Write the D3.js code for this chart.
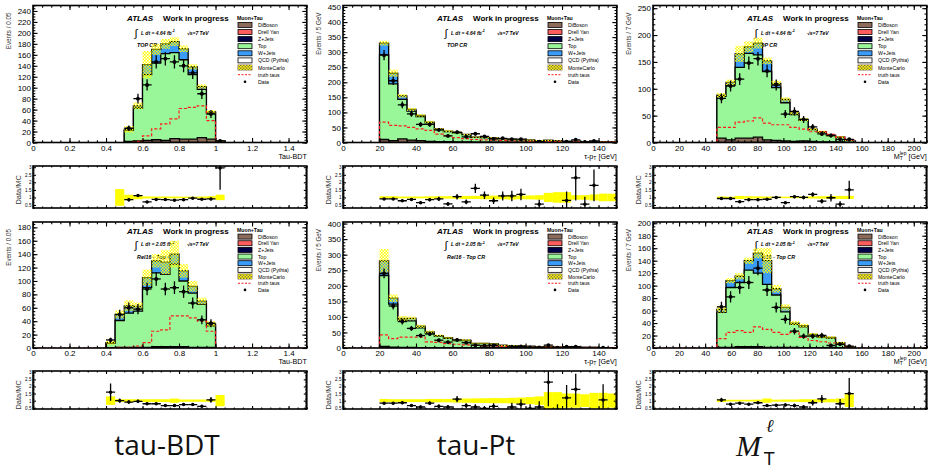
<!DOCTYPE html>
<html lang="en">
<head>
<meta charset="utf-8">
<title>Muon+Tau top control region</title>
<script src="https://cdn.jsdelivr.net/npm/d3@7"></script>
<style>
  body { margin: 0; background: white; }
  svg text { font-family: "Liberation Sans", Arial, sans-serif; }
</style>
</head>
<body>
<script>
// ---------------- data ----------------
// panel 1: tau-BDT, TOP CR, 4.64 fb-1   (bins of 0.05 starting at 0.5)
var p1Start = 0.5, p1Width = 0.05;
var p1DiBoson = [2, 3, 4, 5, 4, 7, 6, 6, 9, 6, 3];
var p1Top     = [20, 60, 120, 140, 158, 157, 145, 118, 88, 48, 0];
var p1WJets   = [2, 4, 18, 25, 18, 20, 20, 14, 5, 2, 0];
var p1McErr   = [6, 6, 25, 10, 9, 8, 6, 5, 4, 3, 1];
var p1Truth   = [0, 2, 12, 25, 34, 43, 62, 64, 67, 40, 0];
var p1Data    = [26, 80, 105, 147, 153, 147, 140, 127, 89, 52, 3];
var p1RatioStart = 0.45;
var p1Ratio    = [null, 0.85, 1.12, 0.7, 0.87, 0.86, 0.82, 0.85, 0.95, 0.88, 0.9, 2.95];
var p1RatioErr = [0, 0.12, 0.08, 0.05, 0.05, 0.05, 0.05, 0.05, 0.05, 0.05, 0.08, 1.45];
var p1Band     = [0.55, 0.18, 0.12, 0.07, 0.06, 0.06, 0.06, 0.05, 0.05, 0.06, 0.08, 0.18];

// panel 2: tau-pT, TOP CR, 4.64 fb-1   (5 GeV bins from 20)
var p2Start = 20, p2Width = 5;
var p2DiBoson = [10, 6, 12, 8, 6, 4, 3, 3, 2, 2, 1, 1, 1, 1, 1, 1, 1, 1, 1, 0, 0, 1, 0, 0, 0, 0];
var p2Top     = [282, 189, 131, 96, 80, 61, 40, 33, 30, 24, 16, 15, 13, 11, 9, 8, 7, 5, 6, 5, 4, 3, 3, 3, 2, 2];
var p2WJets   = [38, 35, 12, 6, 4, 3, 2, 2, 1, 1, 1, 1, 1, 1, 0, 0, 0, 0, 0, 0, 0, 0, 0, 0, 0, 0];
var p2McErr   = [8, 12, 6, 5, 4, 4, 3, 3, 3, 2, 2, 2, 2, 2, 2, 2, 2, 2, 2, 2, 1, 1, 1, 1, 1, 1];
var p2Truth   = [68, 57, 55, 50, 45, 40, 28, 22, 16, 13, 10, 9, 8, 7, 5, 5, 4, 3, 3, 3, 2, 2, 2, 1, 1, 1];
var p2Data    = [290, 205, 125, 95, 60, 60, 42, 22, 34, 19, 29, 20, 12, 14, 11, 11, 0, 3, 0, 0, 3, 9, 2, 5, 0, 0];
var p2RatioStart = 20;
var p2Ratio    = [0.9, 0.9, 0.78, 0.87, 0.65, 0.85, 0.9, 0.57, 1.05, 0.7, 1.6, 1.15, 0.78, 1.1, 1.1, 1.2, null, 0.55, null, null, 0.8, 2.3, 0.55, 1.8, null, null];
var p2RatioErr = [0.05, 0.06, 0.07, 0.09, 0.08, 0.1, 0.14, 0.12, 0.18, 0.16, 0.3, 0.25, 0.22, 0.3, 0.35, 0.38, 0, 0.3, 0, 0, 0.6, 1.5, 0.5, 1.05, 0, 0];
var p2Band     = [0.08, 0.08, 0.06, 0.06, 0.06, 0.07, 0.08, 0.08, 0.09, 0.1, 0.1, 0.12, 0.12, 0.12, 0.14, 0.12, 0.13, 0.15, 0.3, 0.35, 0.35, 0.15, 0.15, 0.2, 0.25, 0.25];

// panel 3: MT(lep), TOP CR, 4.64 fb-1   (7 GeV bins from 49)
var p3Start = 49, p3Width = 7;
var p3DiBoson = [8, 5, 8, 8, 10, 5, 4, 3, 2, 3, 2, 1, 1, 1, 0];
var p3Top     = [78, 102, 132, 158, 153, 127, 98, 71, 50, 38, 22, 18, 12, 9, 4];
var p3WJets   = [2, 5, 25, 12, 22, 20, 8, 6, 3, 2, 1, 1, 0, 0, 0];
var p3McErr   = [4, 5, 15, 10, 10, 6, 5, 4, 3, 3, 2, 2, 2, 2, 1];
var p3Truth   = [28, 28, 38, 40, 46, 36, 33, 33, 28, 25, 20, 20, 15, 10, 5];
var p3Data    = [82, 105, 118, 148, 156, 133, 107, 53, 58, 43, 29, 16, 13, 6, 6];
var p3RatioStart = 49;
var p3Ratio    = [0.93, 0.93, 0.72, 0.85, 0.85, 0.88, 1.0, 0.65, 1.05, 1.0, 1.2, 0.75, 0.98, 0.55, 1.5];
var p3RatioErr = [0.05, 0.05, 0.05, 0.05, 0.05, 0.05, 0.07, 0.06, 0.1, 0.12, 0.15, 0.15, 0.25, 0.2, 0.6];
var p3Band     = [0.06, 0.05, 0.1, 0.08, 0.07, 0.06, 0.05, 0.05, 0.05, 0.06, 0.07, 0.08, 0.1, 0.1, 0.1];

// panel 4: tau-BDT, Rel16 - Top CR, 2.05 fb-1   (bins of 0.05 from 0.4)
var p4Start = 0.4, p4Width = 0.05;
var p4DiBoson = [0, 1, 1, 1, 1, 2, 2, 2, 2, 1, 1, 1];
var p4Top     = [7, 40, 51, 54, 89, 110, 108, 123, 98, 81, 64, 32];
var p4WJets   = [1, 9, 11, 7, 15, 18, 18, 15, 15, 10, 5, 3];
var p4McErr   = [3, 6, 8, 6, 12, 10, 18, 20, 10, 8, 5, 4];
var p4Truth   = [0, 1, 1, 3, 8, 25, 27, 48, 48, 45, 40, 25];
var p4Data    = [12, 50, 60, 58, 88, 103, 88, 90, 84, 67, 42, 37];
var p4RatioStart = 0.4;
var p4Ratio    = [1.6, 1.0, 0.9, 0.95, 0.78, 0.78, 0.65, 0.65, 0.72, 0.72, 0.6, 1.05, null];
var p4RatioErr = [0.6, 0.15, 0.12, 0.12, 0.08, 0.07, 0.07, 0.06, 0.07, 0.08, 0.09, 0.2, 0];
var p4Band     = [0.3, 0.1, 0.1, 0.1, 0.1, 0.1, 0.1, 0.15, 0.08, 0.08, 0.08, 0.08, 0.4];

// panel 5: tau-pT, Rel16 - Top CR, 2.05 fb-1
var p5Start = 20, p5Width = 5;
var p5DiBoson = [5, 3, 2, 2, 1, 1, 1, 1, 1, 1, 0, 0, 0, 0, 0, 0, 0, 0, 0, 0, 0, 0, 0, 0, 0, 0];
var p5Top     = [228, 138, 88, 85, 64, 48, 37, 30, 23, 23, 14, 14, 12, 8, 7, 6, 5, 4, 4, 3, 3, 2, 2, 2, 1, 1];
var p5WJets   = [47, 19, 5, 8, 5, 3, 2, 2, 1, 1, 1, 1, 1, 0, 0, 0, 0, 0, 0, 0, 0, 0, 0, 0, 0, 0];
var p5McErr   = [38, 12, 8, 6, 5, 4, 3, 3, 3, 3, 2, 2, 2, 2, 2, 2, 1, 1, 1, 1, 1, 1, 1, 1, 1, 1];
var p5Truth   = [42, 30, 35, 35, 35, 20, 18, 14, 12, 10, 8, 7, 6, 5, 4, 3, 3, 2, 2, 2, 1, 1, 1, 1, 1, 1];
var p5Data    = [240, 135, 85, 63, 40, 45, 25, 19, 26, 17, 9, 7, 8, 0, 4, 5, 2, 2, 9, 1, 4, 4, 0, 0, 1, 0];
var p5RatioStart = 20;
var p5Ratio    = [0.82, 0.82, 0.85, 0.65, 0.55, 0.82, 0.6, 0.55, 1.1, 0.65, 0.55, 0.45, 0.6, null, 0.55, 0.75, 0.45, 0.55, 2.3, 0.35, 1.2, 1.8, null, null, 1.05, null];
var p5RatioErr = [0.06, 0.08, 0.1, 0.09, 0.1, 0.13, 0.13, 0.14, 0.22, 0.17, 0.2, 0.18, 0.22, 0, 0.3, 0.35, 0.3, 0.4, 1.7, 0.4, 0.9, 1.1, 0, 0, 1.1, 0];
var p5Band     = [0.12, 0.1, 0.1, 0.1, 0.1, 0.12, 0.12, 0.12, 0.14, 0.15, 0.16, 0.17, 0.18, 0.18, 0.2, 0.22, 0.25, 0.3, 0.6, 0.6, 0.5, 0.5, 0.45, 0.55, 0.55, 0.5];

// panel 6: MT(lep), Rel16 - Top CR, 2.05 fb-1
var p6Start = 49, p6Width = 7;
var p6DiBoson = [1, 1, 2, 2, 2, 1, 1, 1, 1, 0, 0, 0, 0, 0, 0];
var p6Top     = [56, 96, 103, 123, 118, 101, 84, 57, 37, 34, 21, 17, 16, 8, 2];
var p6WJets   = [5, 11, 10, 15, 32, 38, 10, 7, 2, 2, 1, 1, 1, 0, 0];
var p6McErr   = [5, 4, 5, 5, 8, 20, 6, 5, 3, 3, 2, 2, 2, 2, 1];
var p6Truth   = [15, 25, 28, 25, 34, 30, 25, 22, 25, 17, 12, 10, 8, 6, 2];
var p6Data    = [66, 82, 97, 105, 128, 93, 65, 46, 27, 19, 19, 20, 4, 6, 3];
var p6RatioStart = 49;
var p6Ratio    = [1.05, 0.75, 0.82, 0.75, 0.85, 0.65, 0.68, 0.7, 0.65, 0.55, 0.85, 1.12, null, 0.78, 1.5];
var p6RatioErr = [0.15, 0.08, 0.09, 0.08, 0.08, 0.07, 0.09, 0.1, 0.13, 0.13, 0.2, 0.28, 0, 0.33, 1.1];
var p6Band     = [0.1, 0.06, 0.06, 0.06, 0.07, 0.15, 0.07, 0.08, 0.08, 0.1, 0.1, 0.12, 0.12, 0.15, 0.45];

var legendNames = ["DiBoson", "Drell Yan", "Z+Jets", "Top", "W+Jets", "QCD (Pythia)", "MonteCarlo", "truth taus", "Data"];
var ratioTicks = [0.5, 1, 1.5, 2, 2.5, 3];

// ---------------- colours / layout ----------------
var cBrown = "#8c6b5b", cRed = "#ff5d5d", cNavy = "#000048", cGreen = "#99f799", cBlue = "#3b9cf7";

var cols = [33, 343, 653];
var colW = 273.8;
var rows = [
    { top: 5.5, bottom: 142.5, rTop: 166, rBottom: 208, rDom: [0.3, 3.08],
      atlasY: 21, lumiY: 34.5, regionY: 46.5, legTitleY: 19.5, legY0: 25, legDy: 7.1,
      xTitleY: 158.5, lumi: "4.64", region: "TOP CR" },
    { top: 222, bottom: 348, rTop: 371, rBottom: 409, rDom: [0.41, 3.09],
      atlasY: 233.5, lumiY: 246, regionY: 258.5, legTitleY: 231.5, legY0: 236.7, legDy: 6.65,
      xTitleY: 363.5, lumi: "2.05", region: "Rel16 - Top CR" }
];

function bdtAxis() { return { xDom: [0, 1.5], xTicks: d3.range(0, 8).map(function(i) { return i * 0.2; }), xMinor: 0.05, xTitle: "bdt", yTitle: "Events / 0.05" }; }
function ptAxis()  { return { xDom: [0, 150], xTicks: d3.range(0, 141, 20), xMinor: 5, xTitle: "pt", yTitle: "Events / 5 GeV" }; }
function mtAxis()  { return { xDom: [0, 210], xTicks: d3.range(0, 201, 20), xMinor: 5, xTitle: "mt", yTitle: "Events / 7 GeV" }; }

var panels = [
    Object.assign(bdtAxis(), { col: 0, row: 0, yMax: 250, yStep: 20, yMinor: 5, start: p1Start, width: p1Width, diboson: p1DiBoson, top: p1Top, wjets: p1WJets, err: p1McErr, truth: p1Truth, data: p1Data, rStart: p1RatioStart, ratio: p1Ratio, rErr: p1RatioErr, band: p1Band }),
    Object.assign(ptAxis(),  { col: 1, row: 0, yMax: 455, yStep: 50, yMinor: 10, start: p2Start, width: p2Width, diboson: p2DiBoson, top: p2Top, wjets: p2WJets, err: p2McErr, truth: p2Truth, data: p2Data, rStart: p2RatioStart, ratio: p2Ratio, rErr: p2RatioErr, band: p2Band }),
    Object.assign(mtAxis(),  { col: 2, row: 0, yMax: 255, yStep: 50, yMinor: 10, start: p3Start, width: p3Width, diboson: p3DiBoson, top: p3Top, wjets: p3WJets, err: p3McErr, truth: p3Truth, data: p3Data, rStart: p3RatioStart, ratio: p3Ratio, rErr: p3RatioErr, band: p3Band }),
    Object.assign(bdtAxis(), { col: 0, row: 1, yMax: 188, yStep: 20, yMinor: 5, start: p4Start, width: p4Width, diboson: p4DiBoson, top: p4Top, wjets: p4WJets, err: p4McErr, truth: p4Truth, data: p4Data, rStart: p4RatioStart, ratio: p4Ratio, rErr: p4RatioErr, band: p4Band }),
    Object.assign(ptAxis(),  { col: 1, row: 1, yMax: 405, yStep: 50, yMinor: 10, start: p5Start, width: p5Width, diboson: p5DiBoson, top: p5Top, wjets: p5WJets, err: p5McErr, truth: p5Truth, data: p5Data, rStart: p5RatioStart, ratio: p5Ratio, rErr: p5RatioErr, band: p5Band }),
    Object.assign(mtAxis(),  { col: 2, row: 1, yMax: 202, yStep: 20, yMinor: 5, start: p6Start, width: p6Width, diboson: p6DiBoson, top: p6Top, wjets: p6WJets, err: p6McErr, truth: p6Truth, data: p6Data, rStart: p6RatioStart, ratio: p6Ratio, rErr: p6RatioErr, band: p6Band })
];

// ---------------- svg ----------------
var svg = d3.select("body").append("svg").attr("width", 928).attr("height", 470);
var defs = svg.append("defs");
var hatch = defs.append("pattern").attr("id", "hatch").attr("patternUnits", "userSpaceOnUse")
    .attr("width", 3).attr("height", 3);
hatch.append("path").attr("d", "M0,0h1.6v1.6h-1.6z M1.5,1.5h1.6v1.6h-1.6z").attr("fill", "#ffff00");

function stepPts(start, width, vals) {
    var pts = [[start, 0]];
    vals.forEach(function(v, i) { pts.push([start + i * width, v], [start + (i + 1) * width, v]); });
    pts.push([start + vals.length * width, 0]);
    return pts;
}

function rng(lo, hi, step) {
    var out = [];
    for (var i = 0; lo + i * step <= hi + 1e-9; i++) out.push(+(lo + i * step).toFixed(6));
    return out;
}

// ticks on all four sides, pointing inwards
function frameAxes(g, x, y, o) {
    var x0 = x.range()[0], x1 = x.range()[1], y0 = y.range()[0], y1 = y.range()[1];
    function put(axis, tx, ty) {
        var a = g.append("g").attr("transform", "translate(" + tx + "," + ty + ")").call(axis);
        a.select(".domain").remove();
        a.selectAll("line").attr("stroke", "black").attr("stroke-width", 1.1);
        return a;
    }
    var xMaj = o.xTicks, xMin = rng(x.domain()[0], x.domain()[1], o.xMinor);
    var yMaj = o.yTicks, yMin = rng(y.domain()[0], y.domain()[1], o.yMinor);
    var bl = put(d3.axisBottom(x).tickValues(xMaj).tickSizeInner(-o.major).tickSizeOuter(0).tickPadding(o.xPad)
        .tickFormat(o.xLabels ? d3.format("~g") : ""), 0, y0);
    bl.selectAll("text").attr("font-size", o.xFont).attr("fill", "black");
    put(d3.axisBottom(x).tickValues(xMin).tickSizeInner(-o.minor).tickSizeOuter(0).tickFormat(""), 0, y0);
    put(d3.axisTop(x).tickValues(xMaj).tickSizeInner(-o.major).tickSizeOuter(0).tickFormat(""), 0, y1);
    put(d3.axisTop(x).tickValues(xMin).tickSizeInner(-o.minor).tickSizeOuter(0).tickFormat(""), 0, y1);
    var ll = put(d3.axisLeft(y).tickValues(yMaj).tickSizeInner(-o.major).tickSizeOuter(0).tickPadding(o.yPad)
        .tickFormat(o.yFormat), x0, 0);
    ll.selectAll("text").attr("font-size", o.yFont).attr("fill", "black");
    put(d3.axisLeft(y).tickValues(yMin).tickSizeInner(-o.minor).tickSizeOuter(0).tickFormat(""), x0, 0);
    put(d3.axisRight(y).tickValues(yMaj).tickSizeInner(-o.major).tickSizeOuter(0).tickFormat(""), x1, 0);
    put(d3.axisRight(y).tickValues(yMin).tickSizeInner(-o.minor).tickSizeOuter(0).tickFormat(""), x1, 0);
    g.append("rect").attr("x", x0).attr("y", y1).attr("width", x1 - x0).attr("height", y0 - y1)
        .attr("fill", "none").attr("stroke", "black").attr("stroke-width", 1.6);
}

function xTitle(t, kind, xr, yb) {
    var tx = t.append("text").attr("x", xr).attr("y", yb).attr("text-anchor", "end").attr("font-size", 7.2);
    if (kind === "bdt") { tx.text("Tau-BDT"); return; }
    if (kind === "pt") {
        tx.append("tspan").text("\u03c4-p");
        tx.append("tspan").attr("font-size", 5).attr("dy", 1.5).text("T");
        tx.append("tspan").attr("dy", -1.5).text(" [GeV]");
        return;
    }
    tx.append("tspan").text("M");
    tx.append("tspan").attr("font-size", 5).attr("dy", 1.8).text("T");
    tx.append("tspan").attr("font-size", 5).attr("dx", -3).attr("dy", -5).text("lep");
    tx.append("tspan").attr("dy", 3.2).text(" [GeV]");
}

function drawPanel(p, idx) {
    var row = rows[p.row], x0 = cols[p.col], x1 = x0 + colW;
    var x = d3.scaleLinear().domain(p.xDom).range([x0, x1]);
    var y = d3.scaleLinear().domain([0, p.yMax]).range([row.bottom, row.top]);
    var g = svg.append("g");
    var line = d3.line().x(function(d) { return x(d[0]); }).y(function(d) { return y(d[1]); });

    defs.append("clipPath").attr("id", "cm" + idx).append("rect")
        .attr("x", x0).attr("y", row.top).attr("width", colW).attr("height", row.bottom - row.top);

    // labels under the histograms
    var lab = g.append("g").attr("fill", "black");
    lab.append("text").attr("x", x0 + 94).attr("y", row.atlasY).attr("font-size", 8)
        .attr("font-weight", "bold").attr("font-style", "italic").text("ATLAS");
    lab.append("text").attr("x", x0 + 130).attr("y", row.atlasY).attr("font-size", 8)
        .attr("font-weight", "bold").text("Work in progress");
    lab.append("text").attr("x", x0 + 101.5).attr("y", row.lumiY + 2.5).attr("font-size", 11)
        .attr("font-family", "DejaVu Sans").text("\u222b");
    var lt = lab.append("text").attr("x", x0 + 108).attr("y", row.lumiY).attr("font-size", 5)
        .attr("font-style", "italic").attr("font-weight", "bold");
    lt.append("tspan").text("L dt = " + row.lumi + " fb");
    lt.append("tspan").attr("font-size", 3.6).attr("dy", -2.5).text("-1");
    lab.append("text").attr("x", x0 + 154).attr("y", row.lumiY).attr("font-size", 5)
        .attr("font-style", "italic").attr("font-weight", "bold").text("\u221as=7 TeV");
    lab.append("text").attr("x", x0 + 104).attr("y", row.regionY).attr("font-size", 5.4)
        .attr("font-style", "italic").attr("font-weight", "bold").text(row.region);

    var plot = g.append("g").attr("clip-path", "url(#cm" + idx + ")");
    var c1 = p.diboson;
    var c2 = c1.map(function(v, k) { return v + p.top[k]; });
    var c3 = c2.map(function(v, k) { return v + p.wjets[k]; });
    [[c3, cBlue], [c2, cGreen], [c1, cBrown]].forEach(function(s) {
        plot.append("path").attr("d", line(stepPts(p.start, p.width, s[0])) + "Z")
            .attr("fill", s[1]).attr("stroke", "black").attr("stroke-width", 1.3);
    });
    // MC stat band
    plot.selectAll(".band").data(c3).enter().append("rect")
        .attr("x", function(d, k) { return x(p.start + k * p.width); })
        .attr("width", x(p.start + p.width) - x(p.start))
        .attr("y", function(d, k) { return y(d + p.err[k]); })
        .attr("height", function(d, k) { return y(Math.max(0, d - p.err[k])) - y(d + p.err[k]); })
        .attr("fill", "url(#hatch)");
    // truth taus
    var tp = [[p.xDom[0], 0]].concat(stepPts(p.start, p.width, p.truth), [[p.xDom[1], 0]]);
    plot.append("path").attr("d", line(tp)).attr("fill", "none").attr("stroke", "#ff1a1a")
        .attr("stroke-width", 1.2).attr("stroke-dasharray", "3,2");
    // data
    var dg = plot.append("g").attr("stroke", "black").attr("stroke-width", 1.3);
    p.data.forEach(function(d, k) {
        if (!d) return;
        var e = Math.sqrt(d), xc = x(p.start + (k + 0.5) * p.width);
        dg.append("line").attr("x1", x(p.start + k * p.width)).attr("x2", x(p.start + (k + 1) * p.width))
            .attr("y1", y(d)).attr("y2", y(d));
        dg.append("line").attr("x1", xc).attr("x2", xc).attr("y1", y(d - e)).attr("y2", y(d + e));
        dg.append("circle").attr("cx", xc).attr("cy", y(d)).attr("r", 1.3).attr("fill", "black");
    });

    // legend
    var lg = g.append("g");
    var lx = x0 + 204;
    lg.append("text").attr("x", lx).attr("y", row.legTitleY).attr("font-size", 5.2)
        .attr("font-weight", "bold").text("Muon+Tau");
    var fills = [cBrown, cRed, cNavy, cGreen, cBlue, "white"];
    legendNames.forEach(function(name, k) {
        var cy = row.legY0 + k * row.legDy;
        if (k < 6) {
            lg.append("rect").attr("x", lx + 1).attr("y", cy - 2.6).attr("width", 14).attr("height", 5)
                .attr("fill", fills[k]).attr("stroke", "black").attr("stroke-width", 0.8);
        } else if (k === 6) {
            lg.append("rect").attr("x", lx + 1).attr("y", cy - 2.6).attr("width", 14).attr("height", 5)
                .attr("fill", "#8a7a4a").attr("stroke", "#6b5a3a").attr("stroke-width", 0.8);
            lg.append("rect").attr("x", lx + 1).attr("y", cy - 2.6).attr("width", 14).attr("height", 5)
                .attr("fill", "url(#hatch)");
        } else if (k === 7) {
            lg.append("line").attr("x1", lx + 1).attr("x2", lx + 15).attr("y1", cy).attr("y2", cy)
                .attr("stroke", "#ff1a1a").attr("stroke-width", 1).attr("stroke-dasharray", "2,1.5");
        } else {
            lg.append("circle").attr("cx", lx + 8).attr("cy", cy).attr("r", 1.3).attr("fill", "black");
        }
        lg.append("text").attr("x", lx + 21).attr("y", cy + 1.9).attr("font-size", 5.2).text(name);
    });

    frameAxes(g, x, y, { xTicks: p.xTicks, xMinor: p.xMinor, yTicks: rng(0, p.yMax, p.yStep), yMinor: p.yMinor,
        major: 4.5, minor: 2.3, xLabels: true, xPad: 2.5, xFont: 8, yPad: 2, yFont: 8, yFormat: d3.format("d") });

    // axis titles
    g.append("text").attr("transform", "translate(" + (x0 - 22) + "," + (row.top + 7) + ") rotate(-90)")
        .attr("text-anchor", "end").attr("font-size", 6.3).attr("fill", "#333").text(p.yTitle);
    xTitle(g, p.xTitle, x1, row.xTitleY);

    // ratio panel
    var ry = d3.scaleLinear().domain(row.rDom).range([row.rBottom, row.rTop]);
    defs.append("clipPath").attr("id", "cr" + idx).append("rect")
        .attr("x", x0).attr("y", row.rTop).attr("width", colW).attr("height", row.rBottom - row.rTop);
    var rg = svg.append("g");
    var rp = rg.append("g").attr("clip-path", "url(#cr" + idx + ")");
    rp.selectAll(".rb").data(p.band).enter().append("rect")
        .attr("x", function(d, k) { return x(p.rStart + k * p.width); })
        .attr("width", x(p.start + p.width) - x(p.start))
        .attr("y", function(d) { return ry(1 + d); })
        .attr("height", function(d) { return ry(1 - d) - ry(1 + d); })
        .attr("fill", "#ffff00");
    var rd = rp.append("g").attr("stroke", "black").attr("stroke-width", 1.3);
    p.ratio.forEach(function(r, k) {
        if (r === null) return;
        var e = p.rErr[k], xc = x(p.rStart + (k + 0.5) * p.width);
        rd.append("line").attr("x1", x(p.rStart + k * p.width)).attr("x2", x(p.rStart + (k + 1) * p.width))
            .attr("y1", ry(r)).attr("y2", ry(r));
        rd.append("line").attr("x1", xc).attr("x2", xc).attr("y1", ry(r - e)).attr("y2", ry(r + e));
        rd.append("circle").attr("cx", xc).attr("cy", ry(r)).attr("r", 1.1).attr("fill", "black");
    });
    frameAxes(rg, x, ry, { xTicks: p.xTicks, xMinor: p.xMinor, yTicks: ratioTicks, yMinor: 0.1,
        major: 3, minor: 1.5, xLabels: false, xPad: 2, xFont: 5, yPad: 1.5, yFont: 4.6, yFormat: d3.format("~g") });
    rg.append("text").attr("transform", "translate(" + (x0 - 12) + "," + (row.rTop + 9) + ") rotate(-90)")
        .attr("text-anchor", "end").attr("font-size", 7.5).attr("fill", "#333").text("Data/MC");
}

panels.forEach(drawPanel);

// ---------------- captions under the columns ----------------
var cap = svg.append("g").attr("fill", "#111");
cap.append("text").attr("x", 167).attr("y", 455).attr("text-anchor", "middle")
    .attr("font-size", 28).style("font-family", "'Open Sans', sans-serif").text("tau-BDT");
cap.append("text").attr("x", 476).attr("y", 455).attr("text-anchor", "middle")
    .attr("font-size", 28).style("font-family", "'Open Sans', sans-serif").text("tau-Pt");
cap.append("text").attr("x", 736).attr("y", 456).attr("font-size", 30).attr("font-style", "italic")
    .style("font-family", "'Liberation Serif', serif").text("M");
cap.append("text").attr("x", 766).attr("y", 432).attr("font-size", 18).attr("font-style", "italic")
    .style("font-family", "'DejaVu Serif', serif").text("\u2113");
cap.append("text").attr("x", 764).attr("y", 465).attr("font-size", 17)
    .style("font-family", "'DejaVu Sans', sans-serif").text("T");
</script>
</body>
</html>
